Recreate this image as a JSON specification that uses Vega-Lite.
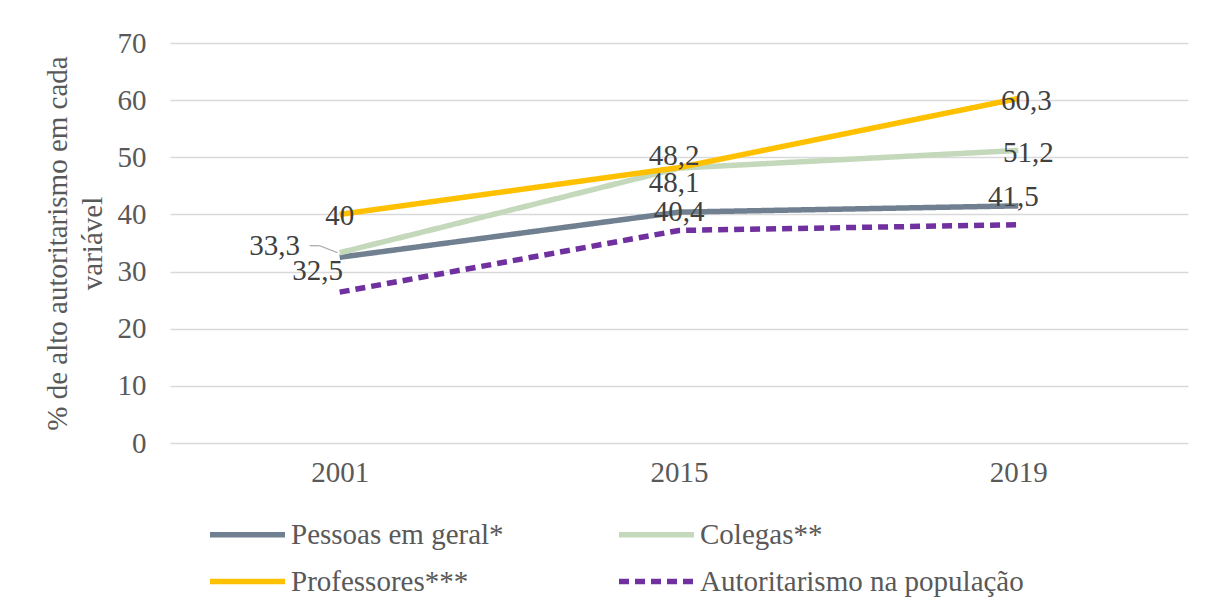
{
  "$schema": "https://vega.github.io/schema/vega-lite/v6.json",
  "width": 1018,
  "height": 400,
  "autosize": {"type": "none"},
  "padding": {"left": 170, "top": 43, "right": 18, "bottom": 170},
  "background": "white",
  "config": {
    "font": "Times New Roman, Liberation Serif, serif",
    "view": {"stroke": null},
    "text": {"font": "Times New Roman, Liberation Serif, serif"},
    "axis": {"labelFont": "Times New Roman, Liberation Serif, serif", "titleFont": "Times New Roman, Liberation Serif, serif"},
    "legend": {"labelFont": "Times New Roman, Liberation Serif, serif"},
    "locale": {"number": {"decimal": ",", "thousands": ".", "grouping": [3], "currency": ["", ""]}}
  },
  "data": {
    "values": [
      {"year": "2001", "series": "Pessoas em geral*", "value": 32.5},
      {"year": "2015", "series": "Pessoas em geral*", "value": 40.4},
      {"year": "2019", "series": "Pessoas em geral*", "value": 41.5},
      {"year": "2001", "series": "Colegas**", "value": 33.3},
      {"year": "2015", "series": "Colegas**", "value": 48.1},
      {"year": "2019", "series": "Colegas**", "value": 51.2},
      {"year": "2001", "series": "Professores***", "value": 40},
      {"year": "2015", "series": "Professores***", "value": 48.2},
      {"year": "2019", "series": "Professores***", "value": 60.3},
      {"year": "2001", "series": "Autoritarismo na população", "value": 26.4},
      {"year": "2015", "series": "Autoritarismo na população", "value": 37.2},
      {"year": "2019", "series": "Autoritarismo na população", "value": 38.2}
    ]
  },
  "encoding": {
    "x": {
      "field": "year", "type": "ordinal",
      "scale": {"type": "point", "padding": 0.5},
      "axis": {"title": null, "labelAngle": 0, "labelFontSize": 29, "labelColor": "#595959", "labelPadding": 15, "ticks": false, "domain": false, "grid": false}
    },
    "y": {
      "field": "value", "type": "quantitative",
      "scale": {"domain": [0, 70], "nice": false},
      "axis": {
        "values": [0, 10, 20, 30, 40, 50, 60, 70],
        "title": ["% de alto autoritarismo em cada", "variável"],
        "titleFontSize": 29, "titleFontWeight": "normal", "titleColor": "#595959", "titleLineHeight": 35, "titlePadding": 10,
        "labelFontSize": 29, "labelColor": "#595959", "labelPadding": 24,
        "ticks": false, "domain": false, "gridColor": "#d9d9d9", "gridWidth": 1.3
      }
    }
  },
  "layer": [
    {
      "mark": {"type": "line", "strokeCap": "butt", "strokeJoin": "round"},
      "encoding": {
        "color": {
          "field": "series", "type": "nominal",
          "scale": {"domain": ["Pessoas em geral*", "Colegas**", "Professores***", "Autoritarismo na população"], "range": ["#708090", "#C4D9BB", "#FFC000", "#7030A0"]},
          "legend": {"orient": "none", "legendX": 37, "legendY": 470, "direction": "horizontal", "columns": 2, "title": null, "symbolType": "M-2,0H2", "symbolSize": 1406, "symbolStrokeWidth": 5, "symbolOffset": 19, "labelFontSize": 29, "labelColor": "#595959", "labelOffset": 22, "columnPadding": 104, "rowPadding": 10, "labelLimit": 0}
        },
        "strokeDash": {
          "field": "series", "type": "nominal",
          "scale": {"domain": ["Pessoas em geral*", "Colegas**", "Professores***", "Autoritarismo na população"], "range": [[1, 0], [1, 0], [1, 0], [10, 6]]},
          "legend": {"orient": "none", "legendX": 37, "legendY": 470, "direction": "horizontal", "columns": 2, "title": null, "symbolType": "M-2,0H2", "symbolSize": 1406, "symbolStrokeWidth": 5, "symbolOffset": 19, "labelFontSize": 29, "labelColor": "#595959", "labelOffset": 22, "columnPadding": 104, "rowPadding": 10, "labelLimit": 0}
        },
        "strokeWidth": {
          "field": "series", "type": "nominal",
          "scale": {"domain": ["Pessoas em geral*", "Colegas**", "Professores***", "Autoritarismo na população"], "range": [5.5, 5.5, 5.5, 3.5]},
          "legend": null
        }
      }
    },
    {"transform": [{"filter": "datum.series == 'Colegas**' && datum.year == '2001'"}], "mark": {"type": "rule", "color": "#a6a6a6", "strokeWidth": 1.2, "xOffset": -30, "x2Offset": -20, "yOffset": -7, "y2Offset": -7}, "encoding": {"x2": {"field": "year"}, "y2": {"field": "value"}}},
    {"transform": [{"filter": "datum.series == 'Colegas**' && datum.year == '2001'"}], "mark": {"type": "rule", "color": "#a6a6a6", "strokeWidth": 1.2, "xOffset": -20, "x2Offset": -2, "yOffset": -7, "y2Offset": 0}, "encoding": {"x2": {"field": "year"}, "y2": {"field": "value"}}},
    {"transform": [{"filter": "datum.series == 'Professores***' && datum.year == '2001'"}], "mark": {"type": "text", "fontSize": 29, "color": "#404040", "baseline": "middle", "dx": 0, "dy": 2}, "encoding": {"text": {"field": "value", "type": "quantitative", "format": ".1~f"}}},
    {"transform": [{"filter": "datum.series == 'Professores***' && datum.year == '2015'"}], "mark": {"type": "text", "fontSize": 29, "color": "#404040", "baseline": "middle", "dx": -5, "dy": -12}, "encoding": {"text": {"field": "value", "type": "quantitative", "format": ".1~f"}}},
    {"transform": [{"filter": "datum.series == 'Professores***' && datum.year == '2019'"}], "mark": {"type": "text", "fontSize": 29, "color": "#404040", "baseline": "middle", "dx": 8, "dy": 3}, "encoding": {"text": {"field": "value", "type": "quantitative", "format": ".1~f"}}},
    {"transform": [{"filter": "datum.series == 'Colegas**' && datum.year == '2001'"}], "mark": {"type": "text", "fontSize": 29, "color": "#404040", "baseline": "middle", "dx": -65, "dy": -7}, "encoding": {"text": {"field": "value", "type": "quantitative", "format": ".1~f"}}},
    {"transform": [{"filter": "datum.series == 'Colegas**' && datum.year == '2015'"}], "mark": {"type": "text", "fontSize": 29, "color": "#404040", "baseline": "middle", "dx": -5, "dy": 15}, "encoding": {"text": {"field": "value", "type": "quantitative", "format": ".1~f"}}},
    {"transform": [{"filter": "datum.series == 'Colegas**' && datum.year == '2019'"}], "mark": {"type": "text", "fontSize": 29, "color": "#404040", "baseline": "middle", "dx": 10, "dy": 3}, "encoding": {"text": {"field": "value", "type": "quantitative", "format": ".1~f"}}},
    {"transform": [{"filter": "datum.series == 'Pessoas em geral*' && datum.year == '2001'"}], "mark": {"type": "text", "fontSize": 29, "color": "#404040", "baseline": "middle", "dx": -22, "dy": 14}, "encoding": {"text": {"field": "value", "type": "quantitative", "format": ".1~f"}}},
    {"transform": [{"filter": "datum.series == 'Pessoas em geral*' && datum.year == '2015'"}], "mark": {"type": "text", "fontSize": 29, "color": "#404040", "baseline": "middle", "dx": 0, "dy": 0}, "encoding": {"text": {"field": "value", "type": "quantitative", "format": ".1~f"}}},
    {"transform": [{"filter": "datum.series == 'Pessoas em geral*' && datum.year == '2019'"}], "mark": {"type": "text", "fontSize": 29, "color": "#404040", "baseline": "middle", "dx": -5, "dy": -9}, "encoding": {"text": {"field": "value", "type": "quantitative", "format": ".1~f"}}}
  ]
}
